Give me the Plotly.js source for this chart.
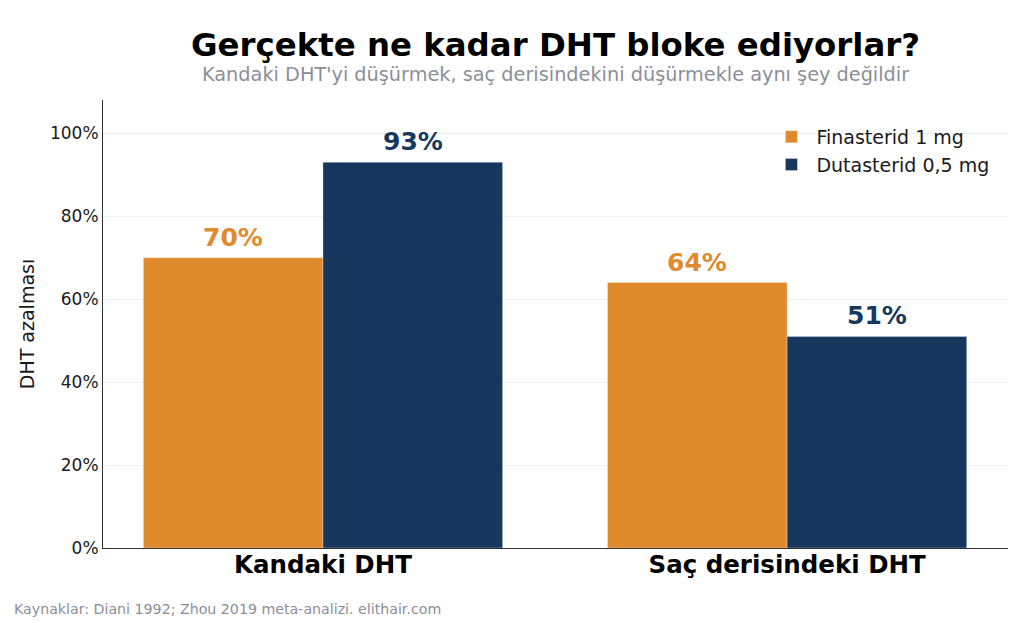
<!DOCTYPE html>
<html>
<head>
<meta charset="utf-8">
<script src="https://cdn.plot.ly/plotly-3.0.1.min.js"></script>
<style>html,body{margin:0;padding:0;background:#fff;}#chart{width:1024px;height:623px;}</style>
</head>
<body>
<div id="chart"></div>
<script>
const categories = ["Kandaki DHT", "Saç derisindeki DHT"];
const seriesNames = ["Finasterid 1 mg", "Dutasterid 0,5 mg"];
const finasterid = [70, 64];
const dutasterid = [93, 51];
const yTickVals = [0, 20, 40, 60, 80, 100];
const yTickText = ["0%", "20%", "40%", "60%", "80%", "100%"];
const colors = ["#E08A2E", "#17385E"];

const FONT = "DejaVu Sans, sans-serif";
const series = [finasterid, dutasterid];

const traces = series.map((vals, i) => ({
  type: "bar",
  name: seriesNames[i],
  x: categories,
  y: vals,
  marker: {color: colors[i], line: {color: "rgba(255,255,255,0.6)", width: 0.5}},
  hoverinfo: "none"
}));

// value labels above bars, positioned by data values
const annotations = [];
const groupW = 0.774; // 1 - bargap
series.forEach((vals, i) => {
  vals.forEach((v, j) => {
    annotations.push({
      xref: "x", yref: "y",
      x: j + (i - 0.5) * groupW / 2,
      y: v,
      text: "<b>" + v + "%</b>",
      showarrow: false,
      yanchor: "bottom",
      yshift: 4,
      font: {family: FONT, size: 25, color: colors[i]}
    });
  });
});

annotations.push({
  xref: "paper", yref: "paper", x: 0.5, y: 1.058,
  xanchor: "center", yanchor: "middle",
  text: "Kandaki DHT'yi düşürmek, saç derisindekini düşürmekle aynı şey değildir",
  showarrow: false,
  font: {family: FONT, size: 19.3, color: "#8C8F98"}
});
annotations.push({
  xref: "paper", yref: "paper", x: -0.1006, y: -0.136,
  xanchor: "left", yanchor: "middle",
  text: "Kaynaklar: Diani 1992; Zhou 2019 meta-analizi. elithair.com",
  showarrow: false,
  font: {family: FONT, size: 14.2, color: "#8C8F98"}
});

const layout = {
  width: 1024, height: 623,
  margin: {l: 103, r: 16, t: 100, b: 75},
  paper_bgcolor: "#ffffff",
  plot_bgcolor: "#ffffff",
  barmode: "group",
  bargap: 0.226,
  bargroupgap: 0,
  font: {family: FONT, color: "#222"},
  title: {
    text: "<b>Gerçekte ne kadar DHT bloke ediyorlar?</b>",
    font: {family: FONT, size: 32.4, color: "#000"},
    x: 0.5425, xanchor: "center",
    y: 1 - 45/623, yanchor: "middle",
    xref: "container", yref: "container"
  },
  xaxis: {
    type: "category",
    range: [-0.474, 1.476],
    showgrid: false,
    showline: true, linecolor: "#333", linewidth: 1,
    ticks: "",
    ticklabelstandoff: -5,
    tickfont: {family: FONT, size: 24.5, color: "#000"},
    tickvals: categories,
    ticktext: categories.map(c => "<b>" + c + "</b>"),
    fixedrange: true
  },
  yaxis: {
    range: [0, 108],
    tickvals: yTickVals,
    ticktext: yTickText,
    showgrid: true, gridcolor: "#EFEFEF", gridwidth: 1,
    zeroline: false,
    showline: true, linecolor: "#333", linewidth: 1,
    ticks: "",
    ticklen: 0,
    tickfont: {family: FONT, size: 17, color: "#1a1a1a"},
    title: {text: "DHT azalması", font: {family: FONT, size: 19, color: "#1a1a1a"}, standoff: 10},
    automargin: false,
    fixedrange: true
  },
  legend: {
    x: 0.985, xanchor: "right",
    y: 0.96, yanchor: "top",
    bgcolor: "rgba(255,255,255,0)",
    font: {family: FONT, size: 19, color: "#1a1a1a"},
    itemwidth: 40,
    tracegroupgap: 2
  },
  annotations: annotations,
  showlegend: true
};

Plotly.newPlot("chart", traces, layout, {displayModeBar: false, staticPlot: true});
</script>
</body>
</html>
